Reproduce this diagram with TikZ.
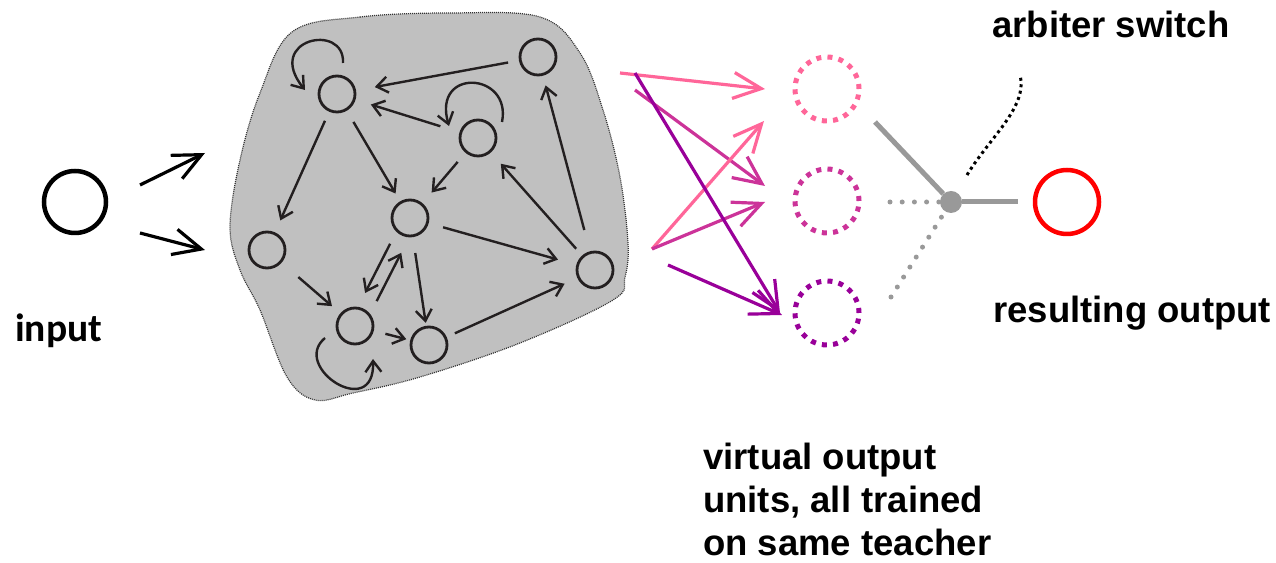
\documentclass[tikz,border=0pt]{standalone}
\usepackage{fontspec}
\setmainfont{Liberation Sans}
\newfontfamily\carlito{Carlito}
\usetikzlibrary{arrows.meta,calc}
\definecolor{blobgray}{HTML}{C0C0C0}
\definecolor{netblack}{HTML}{231F20}
\definecolor{vpink}{HTML}{FF6699}
\definecolor{vmagenta}{HTML}{CC3399}
\definecolor{vpurple}{HTML}{990099}
\definecolor{swgray}{HTML}{999999}
\tikzset{
  unit/.style={circle, draw=netblack, line width=2.8pt, minimum size=36pt, inner sep=0pt},
  link/.style={draw=netblack, line width=2.4pt, -{Straight Barb[length=11pt,width=16pt]},
    shorten <=12pt, shorten >=12pt},
  virt/.style={circle, line width=5pt, dash pattern=on 5pt off 6.2pt, minimum size=64pt,
    inner sep=0pt, outer sep=0pt},
  feed/.style={line width=3.2pt, -{Straight Barb[length=28pt,width=26pt]}},
  txt/.style={font=\bfseries\fontsize{36.5}{43}\selectfont, inner sep=0pt, anchor=base west, align=left}
}
\begin{document}
\begin{tikzpicture}[x=1pt,y=1pt]
  \useasboundingbox (0,0) rectangle (1276,562);
  % reservoir
  \draw[fill=blobgray, draw=black!80, line width=1.2pt, dash pattern=on 1pt off 1pt]
    plot[smooth cycle, tension=0.6] coordinates {(292,530) (360,545) (450,549) (540,545)
      (580,509) (603,452) (620,385) (628,319) (625,285) (613,262) (520,219) (420,185)
      (353,169) (315,162) (287,185) (260,252) (240,292) (230,335) (240,402) (260,469)};
  \draw
    (75,360) node[circle, draw, line width=4.5pt, minimum size=62pt] (in){}
    (337,468) node[unit] (A){}
    (538,505) node[unit] (B){}
    (478,424) node[unit] (C){}
    (410,344) node[unit] (D){}
    (267,312) node[unit] (E){}
    (595,292) node[unit] (F){}
    (355,236) node[unit] (G){}
    (429,217) node[unit] (H){}
    (827,473) node[virt, draw=vpink] (v1){}
    (827,361) node[virt, draw=vmagenta] (v2){}
    (827,249) node[virt, draw=vpurple] (v3){}
    (951,360) node[circle, fill=swgray, minimum size=22pt, inner sep=0pt] (hub){}
    (1067,360) node[circle, draw=red, line width=4.5pt, minimum size=64pt] (res){};
  \coordinate (i1) at (140,377);
  \coordinate (i2) at (140,329);
  \coordinate (r1) at (205,409);
  \coordinate (r2) at (205,312);
  \coordinate (s1) at (620,489);
  \coordinate (s2) at (635,489);
  \coordinate (s3) at (635,472);
  \coordinate (s4) at (652,313);
  \coordinate (s5) at (668,297);
  \coordinate (sw1) at (875,440);
  \coordinate (sw2) at (890,360);
  \coordinate (sw3) at (891,265);
  % input
  \draw[feed] (i1) -- (r1);
  \draw[feed] (i2) -- (r2);
  % reservoir links
  \begin{scope}[link]
    \draw[shorten <=11pt, shorten >=19pt] (B) to (A);
    \draw[shorten <=20pt, shorten >=16pt] (C) to (A);
    \draw[shorten <=10pt, shorten >=13pt] (A) to (E);
    \draw[shorten <=13pt, shorten >=9pt] (A) to (D);
    \draw[shorten <=12pt, shorten >=14pt] (C) to (D);
    \draw[shorten <=15pt, shorten >=19pt] (D) to (F);
    \draw[shorten <=9pt, shorten >=15pt] (F) to (C);
    \draw[shorten <=22pt, shorten >=10pt] (F) to (B);
    \draw[shorten <=22pt, shorten >=11pt] (E) to (G);
    \draw[shorten <=32pt, shorten >=34pt] ($(D)!6pt!-90:(G)$) to ($(G)!6pt!90:(D)$);
    \draw[shorten <=32pt, shorten >=35pt] ($(G)!8pt!-90:(D)$) to ($(D)!8pt!90:(G)$);
    \draw[shorten <=16pt, shorten >=3pt] (D) to (H);
    \draw[shorten <=12pt, shorten >=4pt] (G) to (H);
    \draw[shorten <=9pt, shorten >=14pt] (H) to (F);
    % self loops
    \draw[shorten <=0pt, shorten >=0pt] ([shift={(6,31)}]A.center)
      .. controls +(2,41) and +(-41,51) .. ([shift={(-32,4)}]A.center);
    \draw[shorten <=0pt, shorten >=0pt] ([shift={(24,16)}]C.center)
      .. controls +(10,50) and +(-17,59) .. ([shift={(-29,12)}]C.center);
    \draw[shorten <=0pt, shorten >=0pt] ([shift={(-30,-12)}]G.center)
      .. controls +(-35,-29) and +(2,-63) .. ([shift={(18,-33)}]G.center);
  \end{scope}
  % readouts
  \draw[feed, vpink] (s1) -- ([shift={(-30,0)}]v1.west);
  \draw[feed, vmagenta] (s3) -- ([shift={(-30,15)}]v2.west);
  \draw[feed, vpink] (s4) -- ([shift={(-31,-32)}]v1.west);
  \draw[feed, vmagenta] (s4) -- ([shift={(-30,-1)}]v2.west);
  \draw[feed, vpurple] (s5) -- ([shift={(-13,-2)}]v3.west);
  \draw[feed, vpurple] (s2) -- ([shift={(-15,0)}]v3.west);
  % arbiter switch
  \draw[swgray, line width=5pt] (sw1) -- (hub);
  \draw[swgray, line width=5pt, shorten >=15pt] (hub) -- (res);
  \draw[swgray, line width=5pt, line cap=round, dash pattern=on 0pt off 12.2pt] (sw2) -- (hub);
  \draw[swgray, line width=5pt, line cap=round, dash pattern=on 0pt off 11.8pt] (sw3) -- (hub);
  \draw[black, line width=3pt, dash pattern=on 3pt off 3.5pt]
    (967,387) .. controls (990,425) and (1028,455) .. (1020,487);
  % texts
  \node[txt] (arb) at (992,524) {arbiter switch};
  \node[txt] (resl) at (993,239) {resulting output};
  \node[txt] (virtl) at (703,6.5) {virtual output\\units, all trained\\on same teacher};
  \node[txt, font=\carlito\bfseries\fontsize{39.5}{46}\selectfont] (inl) at (15,220) {input};
\end{tikzpicture}
\end{document}
